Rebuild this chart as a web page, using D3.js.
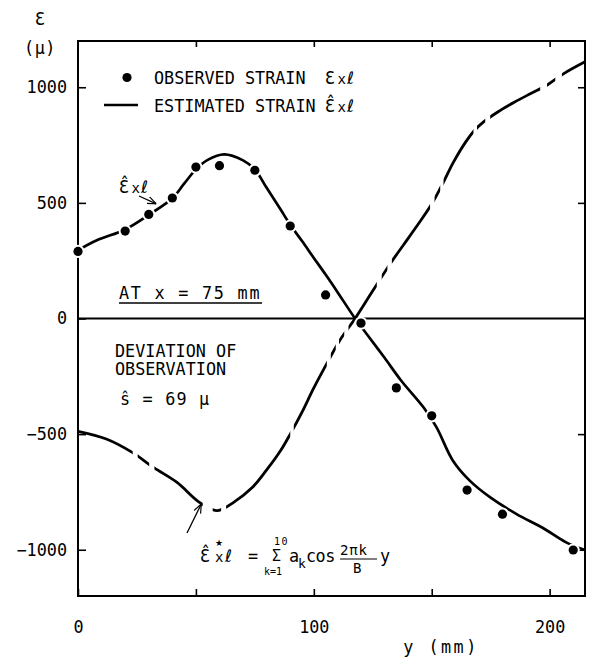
<!DOCTYPE html>
<html><head><meta charset="utf-8">
<script src="https://cdn.jsdelivr.net/npm/d3@7/dist/d3.min.js"></script>
<style>
html,body{margin:0;padding:0;background:#fff;}
svg{display:block;}
text{font-family:"DejaVu Sans Mono","DejaVu Sans",monospace;fill:#000;}
</style></head>
<body>
<svg id="chart" width="591" height="657"></svg>
<script>
// ---------- data ----------
const yTicks = [-1000, -500, 0, 500, 1000];
const xTicks = [0, 50, 100, 150, 200];
const xLabelTicks = [0, 100, 200];

// observed strain (dots)
const obsPos = [0, 20, 30, 40, 50, 60, 75, 90, 105, 120, 135, 150, 165, 180, 210];
const obsStrain = [290, 378, 450, 521, 655, 661, 641, 400, 102, -20, -300, -421, -742, -846, -1001];

// estimated strain curve
const estPos = [0, 8, 20, 30, 40, 45, 50, 55, 62, 70, 75, 80, 86, 90, 95, 100, 105, 110, 117.5, 122.5, 130, 137, 146.5, 152, 159, 166, 175, 186, 197, 207, 215];
const estStrain = [295, 338, 385, 448, 520, 583, 645, 686, 710, 684, 645, 565, 470, 405, 335, 262, 190, 115, 0, -68, -170, -268, -384, -470, -615, -700, -775, -846, -905, -968, -1001];

// Fourier series curve (starred)
const starPos = [0, 12, 23, 32, 42, 51.5, 59, 66, 74, 80, 86, 90, 95, 100, 105.5, 111, 117.5, 125, 132.4, 138, 143.7, 150, 155, 159, 164.5, 168, 172, 178, 185, 192, 199, 206, 215];
const starStrain = [-488, -521, -579, -644, -709, -795, -831, -795, -730, -655, -570, -500, -405, -300, -195, -95, 0, 120, 237, 318, 400, 495, 590, 672, 765, 812, 850, 893, 935, 973, 1010, 1059, 1110];

// ---------- style ----------
const starGaps = [[23.2,25.3],[30.2,32.4],[52.9,57.1],[60.7,62.8],[90,91.5],[105.5,107.2],[109.3,110.7],[112.9,114.7],[126.7,128.8],[131.2,133.1],[149.3,151.2],[153.6,155],[167.7,169.2],[172.7,174.8],[196,198.9],[202.4,205.2]];
const FS = 16.8;

const svg = d3.select("#chart");
const L = 78, R = 585, T = 41, B = 596;
const x = d3.scaleLinear().domain([0, 215]).range([L, R]);
const y = d3.scaleLinear().domain([-1200, 1200]).range([B, T]);

// defs: mask & arrow marker
const defs = svg.append("defs");
const mask = defs.append("mask").attr("id", "starMask").attr("maskUnits", "userSpaceOnUse")
  .attr("x", 0).attr("y", 0).attr("width", 591).attr("height", 657);
mask.append("rect").attr("x", 0).attr("y", 0).attr("width", 591).attr("height", 657).attr("fill", "#fff");
mask.selectAll("rect.g").data(starGaps).join("rect").attr("class", "g")
  .attr("x", d => x(d[0])).attr("width", d => x(d[1]) - x(d[0]))
  .attr("y", 0).attr("height", 657).attr("fill", "#000");
defs.append("marker").attr("id", "arr").attr("viewBox", "0 0 10 10")
  .attr("refX", 10).attr("refY", 5).attr("markerWidth", 9).attr("markerHeight", 9)
  .attr("markerUnits", "userSpaceOnUse").attr("orient", "auto")
  .append("path").attr("d", "M0,1 L10,5 L0,9").attr("fill", "none").attr("stroke", "#000").attr("stroke-width", 1.3);

// axes
const gL = svg.append("g").attr("transform", `translate(${L},0)`)
  .call(d3.axisLeft(y).tickValues(yTicks).tickSize(-8).tickPadding(11).tickFormat(d3.format("d")));
const gR = svg.append("g").attr("transform", `translate(${R},0)`)
  .call(d3.axisRight(y).tickValues(yTicks.filter(d => d !== 0)).tickSize(-7).tickFormat(""));
const gB = svg.append("g").attr("transform", `translate(0,${B})`)
  .call(d3.axisBottom(x).tickValues(xTicks).tickSize(-7).tickPadding(25)
    .tickFormat(d => xLabelTicks.includes(d) ? d : ""));
const gT = svg.append("g").attr("transform", `translate(0,${T})`)
  .call(d3.axisTop(x).tickValues(xTicks.filter(d => d > 0)).tickSize(-6).tickFormat(""));
[gL, gR, gB, gT].forEach(g => {
  g.select(".domain").remove();
  g.selectAll("line").attr("stroke", "#000").attr("stroke-width", 1.6);
  g.selectAll("text").attr("font-size", FS).attr("font-family", "DejaVu Sans Mono").attr("fill", "#000");
});

// frame and zero line
svg.append("rect").attr("x", L).attr("y", T).attr("width", R - L).attr("height", B - T)
  .attr("fill", "none").attr("stroke", "#000").attr("stroke-width", 2);
svg.append("line").attr("x1", L).attr("x2", R).attr("y1", y(0)).attr("y2", y(0))
  .attr("stroke", "#000").attr("stroke-width", 2);

// curves
const line = d3.line().curve(d3.curveCatmullRom.alpha(0.5)).x(d => x(d[0])).y(d => y(d[1]));
svg.append("path").datum(starPos.map((p, i) => [p, starStrain[i]]))
  .attr("d", line).attr("fill", "none").attr("stroke", "#000").attr("stroke-width", 2.8)
  .attr("mask", "url(#starMask)");
svg.append("path").datum(estPos.map((p, i) => [p, estStrain[i]]))
  .attr("d", line).attr("fill", "none").attr("stroke", "#000").attr("stroke-width", 2.7);

// dots (white halo then black)
const obs = obsPos.map((p, i) => [p, obsStrain[i]]);
svg.append("g").selectAll("circle").data(obs).join("circle")
  .attr("cx", d => x(d[0])).attr("cy", d => y(d[1])).attr("r", 6.6).attr("fill", "#fff");
svg.append("g").selectAll("circle").data(obs).join("circle")
  .attr("cx", d => x(d[0])).attr("cy", d => y(d[1])).attr("r", 4.6).attr("fill", "#000");

// ---------- text helpers ----------
function txt(str, px, py, size, opts = {}) {
  const t = svg.append("text").attr("x", px).attr("y", py).attr("font-size", size).text(str);
  if (opts.anchor) t.attr("text-anchor", opts.anchor);
  if (opts.ls !== undefined) t.attr("letter-spacing", opts.ls);
  if (opts.family) t.attr("font-family", opts.family);
  return t;
}
// multi-part text: parts = [str, x, y, size, family?, letterSpacing?]
function multi(parts) {
  const t = svg.append("text");
  parts.forEach(p => {
    const s = t.append("tspan").attr("x", p[1]).attr("y", p[2]).attr("font-size", p[3]).text(p[0]);
    if (p[4]) s.attr("font-family", p[4]);
    if (p[5] !== undefined) s.attr("letter-spacing", p[5]);
  });
  return t;
}
function sym(px, py, hat) { // Ɛxℓ
  multi([
    [hat ? "Ɛ\u0302" : "Ɛ", px, py, 17],
    ["x", px + 12.5, py, 14],
    ["ℓ", px + 22, py, 17, "DejaVu Sans"]
  ]);
}

// y-axis title
txt("Ɛ", 40, 25, 17, { anchor: "middle" });
txt("(μ)", 40, 54, FS, { anchor: "middle", ls: 0.5 });

// legend
svg.append("circle").attr("cx", 127).attr("cy", 77.5).attr("r", 4.6).attr("fill", "#000");
txt("OBSERVED STRAIN", 154, 84, FS);
sym(325, 84, false);
svg.append("line").attr("x1", 104).attr("x2", 138).attr("y1", 105).attr("y2", 105)
  .attr("stroke", "#000").attr("stroke-width", 2.7);
txt("ESTIMATED STRAIN", 154, 112, FS);
sym(325, 112, true);

// annotation on estimated curve
sym(119, 193, true);
svg.append("line").attr("x1", 139).attr("y1", 196).attr("x2", x(33.2)).attr("y2", y(496))
  .attr("stroke", "#000").attr("stroke-width", 1.3).attr("marker-end", "url(#arr)");

// AT x = 75 mm
txt("AT x = 75 mm", 119, 299, FS, { ls: 1.75 });
svg.append("line").attr("x1", 119).attr("x2", 262).attr("y1", 303).attr("y2", 303)
  .attr("stroke", "#000").attr("stroke-width", 1.5);

// deviation
txt("DEVIATION OF", 115, 357, FS);
txt("OBSERVATION", 115, 375, FS);
txt("ŝ = 69 μ", 120, 405, FS, { ls: 1.2 });

// formula
svg.append("line").attr("x1", 187).attr("y1", 533).attr("x2", x(52.3)).attr("y2", y(-802))
  .attr("stroke", "#000").attr("stroke-width", 1.3).attr("marker-end", "url(#arr)");
multi([
  ["Ɛ\u0302", 200, 562, 17],
  ["★", 215, 546, 9, "DejaVu Sans"],
  ["x", 215, 562, 14],
  ["ℓ", 225, 562, 17, "DejaVu Sans"],
  ["=", 248, 562, FS],
  ["10", 274, 545, 10, null, 1.5],
  ["Σ", 272, 561, 15],
  ["k=1", 264, 575, 10],
  ["a", 289, 562, FS],
  ["k", 298, 568, 13],
  ["cos", 306, 562, FS, null, -0.5],
  ["2πk", 340, 555, 14, null, 0.8],
  ["B", 353, 573, 14],
  ["y", 380, 562, FS]
]);
svg.append("line").attr("x1", 340).attr("x2", 377).attr("y1", 559).attr("y2", 559)
  .attr("stroke", "#000").attr("stroke-width", 1.2);

// x-axis title
txt("y (mm)", 441, 653, FS, { anchor: "middle", ls: 2.5 });
</script>
</body></html>
